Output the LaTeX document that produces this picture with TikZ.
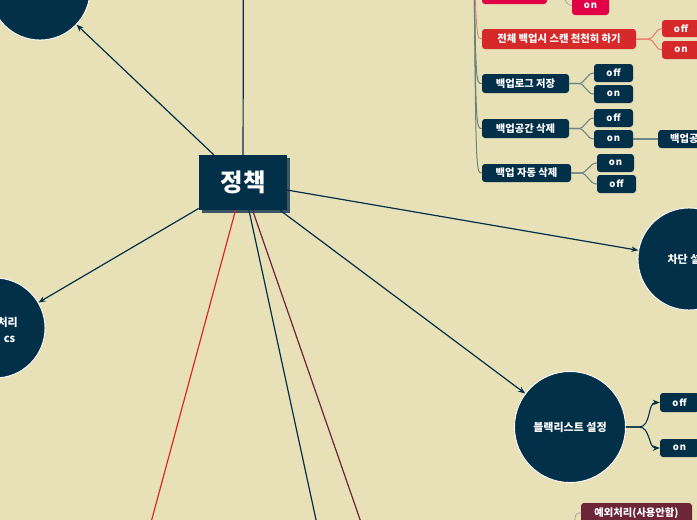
\documentclass[tikz,border=0pt]{standalone}
\usepackage{fontspec}
\setmainfont{Noto Sans CJK KR}
\newfontfamily\spaced{Noto Sans CJK KR}[LetterSpace=12]
\usetikzlibrary{arrows.meta}
\definecolor{bg}{RGB}{232,225,184}
\definecolor{navy}{RGB}{3,48,73}
\definecolor{shadowc}{RGB}{60,85,100}
\definecolor{redl}{RGB}{222,40,40}
\definecolor{redbox}{RGB}{214,42,42}
\definecolor{crimson}{RGB}{226,0,72}
\definecolor{maroon}{RGB}{108,38,56}
\definecolor{spinec}{RGB}{105,132,122}
\definecolor{salmon}{RGB}{232,122,108}
\definecolor{forkc}{RGB}{110,135,135}
\begin{document}
\begin{tikzpicture}[x=1pt,y=-1pt,
  circ/.style={circle, fill=navy, draw=white, line width=0.9pt, text=white,
    font=\bfseries\fontsize{11}{13}\selectfont, inner sep=0pt},
  kbox/.style={rounded corners=3pt, fill=navy, text=white,
    font=\bfseries\fontsize{10.3}{12}\selectfont, inner sep=0pt},
  obox/.style={kbox, font=\spaced\bfseries\fontsize{9.5}{11}\selectfont},
  rbox/.style={kbox, fill=redbox},
  rob/.style={obox, fill=redbox},
  hubline/.style={draw=navy, line width=1.2pt},
  arr/.style={hubline, -{Stealth[length=7pt,width=5.5pt]}},
  spine/.style={draw=spinec, line width=1pt},
  spiner/.style={draw=salmon, line width=0.8pt},
  fork/.style={draw=forkc, line width=1.1pt},
  forkr/.style={draw=salmon, line width=1pt},
  forkg/.style={draw=gray!70, line width=0.8pt}
]
\useasboundingbox (0,0) rectangle (697,520);
\clip (0,0) rectangle (697,520);
\fill[bg] (0,0) rectangle (697,520);

% central node
\fill[shadowc] (202,158) rectangle (290,213);
\node[rectangle, fill=navy, text=white, minimum width=88pt, minimum height=55pt,
  inner sep=0pt, font=\bfseries\fontsize{24.5}{28}\selectfont] (pol) at (243,182.5) {정책};

% circles
\node[circ, minimum size=100pt] (tl) at (40,-10) {};
\node[circ, minimum size=100pt] (lc) at (-5,328) {};
\node[anchor=east, align=right, text=white, inner sep=0pt,
  font=\bfseries\fontsize{11}{16}\selectfont] (lct) at (18,330) {처리\\cs\hspace*{2.5pt}};
\node[circ, minimum size=102pt] (rc) at (689,259) {차단 설정};
\node[circ, minimum size=111pt] (bl) at (570,427) {블랙리스트 설정};

% off-picture ends
\coordinate (up) at (243.5,-100);
\coordinate (dr) at (130,600);
\coordinate (dn) at (333.4,600);
\coordinate (dm) at (388,600);

\draw[hubline] (pol) -- (up);
\draw[arr] (pol) -- (tl);
\draw[arr] (pol) -- (lc);
\draw[arr] (pol) -- (rc);
\draw[arr] (pol) -- (bl);
\draw[draw=redl, line width=1.2pt] (pol) -- (dr);
\draw[hubline] (pol) -- (dn);
\draw[draw=maroon, line width=1.2pt] (pol) -- (dm);

% blacklist children
\node[obox, minimum width=39pt, minimum height=19pt] (bloff) at (679.5,402.5) {off};
\node[obox, minimum width=39pt, minimum height=18pt] (blon) at (679.5,448) {on};
\draw[arr, line width=1.1pt] (bl.east) -- ++(13,0) to[out=0,in=180] (bloff.west);
\draw[arr, line width=1.1pt] (bl.east) -- ++(13,0) to[out=0,in=180] (blon.west);

% exception box
\node[kbox, fill=maroon, minimum width=111pt, minimum height=20pt] (exc) at (636.5,513) {예외처리(사용안함)};
\coordinate (excc) at (574,532);
\draw[forkg] (exc.west) .. controls (575,513) .. (excc);

% top right tree
\node[rbox, fill=crimson, minimum width=65pt, minimum height=24pt] (redtop) at (514.5,-8) {};
\node[rob, fill=crimson, minimum width=37pt, minimum height=19pt] (ontop) at (590.5,5.5) {on};
\node[rbox, minimum width=154pt, minimum height=20pt] (full) at (559,39) {전체 백업시 스캔 천천히 하기};
\node[rob, minimum width=38pt, minimum height=17pt] (fulloff) at (681,28.5) {off};
\node[rob, minimum width=38pt, minimum height=18pt] (fullon) at (681,50) {on};
\node[kbox, minimum width=87pt, minimum height=19pt] (log) at (525.5,83.5) {백업로그 저장};
\node[obox, minimum width=39pt, minimum height=18pt] (logoff) at (613.5,73) {off};
\node[obox, minimum width=39pt, minimum height=18pt] (logon) at (613.5,94) {on};
\node[kbox, minimum width=87pt, minimum height=19pt] (space) at (525.5,128.5) {백업공간 삭제};
\node[obox, minimum width=39pt, minimum height=18pt] (spoff) at (613.5,118) {off};
\node[obox, minimum width=39pt, minimum height=18pt] (spon) at (613.5,139) {on};
\node[kbox, anchor=west, inner xsep=12pt, minimum height=18pt] (spchild) at (658,139) {백업공간};
\node[kbox, minimum width=89pt, minimum height=18pt] (auto) at (526.5,173) {백업 자동 삭제};
\node[obox, minimum width=37pt, minimum height=18pt] (auon) at (615.5,163) {on};
\node[obox, minimum width=39pt, minimum height=18pt] (auoff) at (616.5,184) {off};

\coordinate (tp) at (474,-30);
\draw[spine] (tp) .. controls (475.5,-8) .. (redtop.west);
\draw[spiner] (tp) .. controls (477,39) .. (full.west);
\draw[spine] (tp) .. controls (476,83.5) .. (log.west);
\draw[spine] (tp) .. controls (476,128.5) .. (space.west);
\draw[spine] (tp) .. controls (476,173) .. (auto.west);

\draw[forkg] (redtop.east) -- ++(10,0) to[out=0,in=180] (ontop.west);
\draw[forkr] (full.east) -- ++(12,0) to[out=0,in=180] (fulloff.west);
\draw[forkr] (full.east) -- ++(12,0) to[out=0,in=180] (fullon.west);
\draw[fork] (log.east) -- ++(9,0) to[out=0,in=180] (logoff.west);
\draw[fork] (log.east) -- ++(9,0) to[out=0,in=180] (logon.west);
\draw[fork] (space.east) -- ++(9,0) to[out=0,in=180] (spoff.west);
\draw[fork] (space.east) -- ++(9,0) to[out=0,in=180] (spon.west);
\draw[fork] (spon) -- (spchild);
\draw[fork] (auto.east) -- ++(9,0) to[out=0,in=180] (auon.west);
\draw[fork] (auto.east) -- ++(9,0) to[out=0,in=180] (auoff.west);
\end{tikzpicture}
\end{document}
